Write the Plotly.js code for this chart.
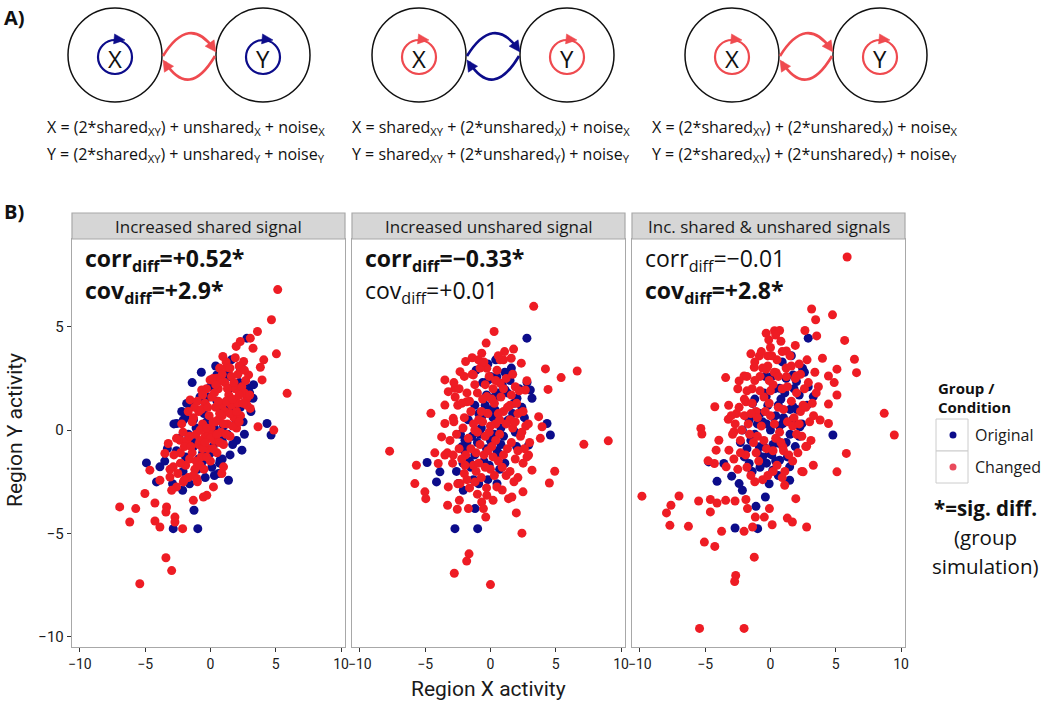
<!DOCTYPE html>
<html><head><meta charset="utf-8">
<script src="https://cdn.plot.ly/plotly-3.0.1.min.js"></script>
<style>html,body{margin:0;padding:0;background:#fff}#chart{width:1050px;height:703px}</style>
</head><body><div id="chart"></div>
<script>
// ---------------- DATA ----------------
const panelTitles = ["Increased shared signal", "Increased unshared signal", "Inc. shared & unshared signals"];
const corrDiff = ["+0.52*", "\u22120.33*", "\u22120.01"];
const covDiff = ["+2.9*", "+0.01", "+2.8*"];
const corrSig = [true, true, false];
const covSig = [true, false, true];
const xTicks = [-10, -5, 0, 5, 10];
const yTicks = [-10, -5, 0, 5];
const groupNames = ["Original", "Changed"];
const equationsX = [
  "X = (2*shared<sub>XY</sub>) + unshared<sub>X</sub> + noise<sub>X</sub>",
  "X = shared<sub>XY</sub> + (2*unshared<sub>X</sub>) + noise<sub>X</sub>",
  "X = (2*shared<sub>XY</sub>) + (2*unshared<sub>X</sub>) + noise<sub>X</sub>"
];
const equationsY = [
  "Y = (2*shared<sub>XY</sub>) + unshared<sub>Y</sub> + noise<sub>Y</sub>",
  "Y = shared<sub>XY</sub> + (2*unshared<sub>Y</sub>) + noise<sub>Y</sub>",
  "Y = (2*shared<sub>XY</sub>) + (2*unshared<sub>Y</sub>) + noise<sub>Y</sub>"
];

// Panel 1: increased shared signal
const sharedOriginal = [
  [2.79,4.45],[2.28,2.99],[1.51,2.59],[0.49,2.67],[2.92,2.02],[3.26,1.54],[4.33,0.32],[4.64,-0.24],
  [2.41,-0.97],[1.38,-2.43],[0.62,-2.1],[0.74,-1.46],[-4.9,-1.59],[-3.87,-1.78],[-4.13,-2.51],[-2.13,-2.91],
  [-1.26,-3.88],[-2.85,-4.77],[-0.97,-4.77],[-2.59,0.32],[-2.08,0.49],[-0.79,1.46],[-1.82,1.29],[-0.03,-1.13],
  [-0.54,-1.46],[-1.31,-0.81],
  [-2.8,0.3],[-2.4,-0.4],[-1.9,0.6],[-1.5,1.2],[-1.2,-0.6],[-0.8,1.6],[-0.6,-1.1],[-0.3,0.4],[0.0,2.1],[0.2,-0.8],
  [0.5,1.4],[0.7,-1.6],[1.0,0.2],[1.2,2.7],[1.5,-1.2],[1.8,1.0],[2.0,-0.5],[2.2,2.3],[2.5,0.4],[2.8,1.5],
  [-2.1,-2.0],[-1.6,-2.6],[-1.0,-1.9],[-0.4,-2.3],[0.3,-2.2],[0.9,-1.4],[-3.3,-0.9],[-3.5,-1.5],[-2.9,-2.6],[3.1,0.9],
  [-1.4,2.3],[-0.7,2.8],[0.4,3.1],[1.6,3.4],[2.4,3.0],[3.3,2.2],[-0.2,-0.2],[0.8,0.9],[-1.1,0.1],[1.3,-0.2],
  [-2.6,-1.0],[-2.2,0.9],[-1.7,-0.2],[-1.3,0.5],[-0.9,-1.4],[-0.5,0.8],[-0.1,1.6],[0.3,0.1],[0.6,2.4],[1.1,1.0],
  [1.4,2.0],[1.9,0.3],[2.3,1.1],[2.6,-0.2],[0.1,-1.8],[-0.7,-1.7],[1.7,-0.7],[-1.9,-1.3],[3.0,1.8],[0.9,-0.5]
];
const sharedChanged = [
  [5.15,6.8],[4.67,5.34],[3.6,4.77],[3.05,4.45],[2.28,4.29],[1.97,4.05],[3.26,3.96],[5.05,3.69],[0.95,3.56],
  [4.08,3.4],[2.54,3.32],[1.26,3.04],[3.82,3.04],[2.92,2.67],[3.95,2.43],[5.87,1.78],[-0.03,2.43],[0.49,2.51],
  [-0.67,1.94],[-1.56,1.46],[2.28,1.94],[2.79,1.54],[3.05,1.05],[3.64,0.16],[4.85,0.0],[-3.23,-0.65],[-3.49,-1.13],
  [-2.33,-0.49],[-2.85,-1.78],[-4.64,-1.94],[-3.1,-2.27],[-3.87,-2.43],[-5.02,-3.07],[-6.95,-3.72],[-5.72,-3.8],
  [-4.25,-3.53],[-3.36,-3.72],[-3.41,-3.97],[-6.18,-4.45],[-4.25,-4.4],[-3.87,-4.69],[-2.72,-4.21],[-2.72,-4.45],
  [-2.13,-4.77],[-3.41,-6.18],[-2.97,-6.8],[-5.41,-7.44],[-1.31,-3.4],[-0.54,-3.24],[-0.28,-3.16],[0.23,-2.75],
  [1.0,-1.78],[0.87,-2.1],[-2.59,-2.75],[-2.97,-2.91],[-2.08,-2.51],[-1.05,-2.34],
  [-2.6,-0.4],[-2.1,-0.1],[-1.4,0.4],[-0.9,0.9],[-0.4,1.3],[0.1,1.6],[0.6,2.0],[1.1,2.3],[1.6,2.6],[2.1,2.7],
  [-2.3,-1.1],[-1.8,-0.5],[-1.1,-0.2],[-0.6,0.3],[-0.1,0.7],[0.4,1.1],[0.9,1.2],[1.4,1.7],[1.9,2.0],[2.4,2.1],
  [-1.9,-1.7],[-1.4,-1.1],[-0.9,-0.7],[-0.4,-0.3],[0.05,0.1],[0.6,0.5],[1.1,0.9],[1.6,1.2],[2.1,1.3],[2.6,1.8],
  [-1.7,-2.3],[-1.2,-1.9],[-0.7,-1.3],[-0.2,-0.9],[0.3,-0.5],[0.8,-0.1],[1.3,0.3],[1.8,0.6],[2.3,0.7],[2.8,1.2],
  [-1.0,-2.5],[-0.5,-1.9],[0.0,-1.5],[0.5,-1.1],[1.0,-0.7],[1.5,-0.3],[2.0,0.1],[-2.8,-1.2],[-3.1,-1.9],[-2.5,-2.1],
  [0.2,2.5],[0.7,3.0],[-0.3,2.0],[1.2,3.3],[-1.2,1.1],[-0.8,0.0],[0.9,0.7],[1.7,2.1],[-0.1,-0.2],[0.4,0.4],
  [-2.2,0.3],[-1.6,-0.3],[-1.3,0.6],[-0.7,1.0],[-0.2,1.1],[0.3,1.8],[0.8,2.4],[1.3,2.0],[1.8,2.3],[2.2,3.1],
  [-2.0,-0.8],[-1.5,-0.8],[-0.8,-0.5],[-0.3,0.1],[0.2,0.4],[0.7,0.8],[1.2,1.4],[1.7,1.5],[2.2,1.7],[2.7,2.4],
  [-1.6,-1.4],[-1.1,-1.5],[-0.6,-0.9],[0.0,-0.4],[0.5,-0.2],[1.0,0.3],[1.5,0.8],[2.0,0.9],[2.5,1.3],[3.0,1.7],
  [-1.3,-2.2],[-0.8,-1.7],[-0.3,-1.3],[0.2,-0.9],[0.7,-0.6],[1.2,-0.2],[1.7,0.2],[2.2,0.4],[-2.3,-1.6],[-2.0,-2.4],
  [0.4,2.2],[-0.6,1.7],[0.9,2.7],[1.5,3.0],[-1.0,1.4],[-1.7,0.9],[2.6,2.9],[1.9,3.5],[-0.4,-0.6],[0.6,1.4]
];

// Panel 2: increased unshared signal
const unsharedOriginal = [
  [2.79,4.45],[1.64,2.75],[0.49,2.59],[3.05,1.94],[3.18,1.54],[2.03,1.54],[4.33,0.32],[4.59,-0.24],[2.92,-0.73],
  [-1.95,-0.49],[-2.2,-0.81],[-1.69,-1.62],[-4.85,-1.57],[-3.87,-2.02],[-4.13,-2.51],[-2.46,-2.59],[-2.08,-2.91],
  [-1.18,-3.8],[-2.72,-4.77],[-0.98,-4.77],[0.62,-1.13],[0.1,-0.65],[-0.67,0.65],[0.36,0.97],[1.13,1.94],[-0.15,2.43],
  [-1.5,-1.8],[-2.0,-1.0],[-1.0,-0.6],[-0.5,-1.5],[0.0,-0.5],[0.5,-1.0],[1.0,-0.3],[1.4,0.5],[1.8,1.3],[2.2,2.0],
  [-2.3,-0.2],[-1.7,0.5],[-1.2,1.2],[-0.6,2.3],[0.1,1.0],[0.6,1.8],[1.1,2.8],[1.6,3.0],[-0.2,3.2],[0.4,3.4],
  [-0.9,-2.6],[-0.2,-2.4],[0.5,-2.6],[-1.3,-2.4],[1.1,-1.6],[2.0,-0.8],[2.6,0.6],[-0.7,0.1],[0.2,0.6],[-1.6,-1.5],
  [0.8,0.1],[-0.3,1.7],[1.3,1.8],[-2.6,-2.0],[2.8,2.3],[-1.1,2.9],
  [-1.8,-0.6],[-1.2,-1.2],[-0.8,-0.2],[-0.3,-0.9],[0.3,-0.2],[0.8,-0.7],[1.2,0.4],[1.7,0.8],[-0.9,0.8],[-0.4,1.2],
  [0.3,1.6],[0.9,2.2],[1.5,2.4],[-1.4,-0.3],[-0.1,-1.7],[0.7,-1.9],[1.9,-0.1],[2.4,1.1],[-2.1,-1.6],[0.0,2.6]
];
const unsharedChanged = [
  [3.31,5.99],[0.28,4.77],[-0.33,4.21],[1.08,3.8],[1.77,3.92],[-0.67,3.72],[-1.9,3.32],[-0.92,3.4],[0.74,3.4],
  [1.59,3.48],[2.36,3.24],[-0.28,2.99],[4.21,2.96],[6.64,2.86],[5.41,2.54],[4.41,1.97],[-2.33,2.83],[-1.31,2.67],
  [-3.49,2.43],[-2.72,2.02],[-3.23,1.86],[2.79,2.39],[1.9,2.1],[2.67,1.94],[-1.82,1.37],[-3.49,1.21],[-4.56,0.81],
  [-2.85,0.57],[-3.49,0.32],[-3.74,-0.33],[3.69,0.65],[3.95,0.16],[3.82,-0.4],[7.15,-0.69],[9.02,-0.52],[-7.72,-1.02],
  [-4.26,-1.1],[-5.67,-1.7],[-4.0,-1.62],[-3.49,-1.21],[-2.85,-1.21],[-1.95,-1.7],[2.92,-1.21],[3.18,-1.94],[4.92,-1.99],
  [4.51,-2.56],[-5.79,-2.59],[-5.02,-2.99],[-4.95,-3.32],[-3.23,-2.75],[-2.33,-2.59],[-1.18,-2.51],[0.49,-2.75],
  [1.38,-3.32],[1.64,-3.24],[2.49,-2.99],[-0.28,-3.16],[-0.67,-3.48],[-2.38,-3.4],[-3.28,-3.64],[-2.54,-3.83],
  [-1.69,-3.8],[-0.54,-3.8],[-0.36,-4.21],[1.98,-4.01],[2.41,-4.99],[-1.64,-5.99],[-1.82,-6.34],[-2.77,-6.93],
  [0.0,-7.48],[0.74,2.27],[-0.28,1.62],
  [-2.5,1.2],[-1.8,1.8],[-1.2,2.2],[-0.6,1.5],[0.2,2.0],[0.8,1.6],[1.5,1.2],[2.1,0.8],[2.7,0.2],[3.0,-0.6],
  [-2.8,0.4],[-2.1,0.1],[-1.5,0.9],[-0.9,0.5],[-0.2,0.8],[0.4,0.3],[1.0,0.9],[1.7,0.1],[2.3,-0.3],[-3.1,-0.5],
  [-2.4,-0.9],[-1.7,-0.4],[-1.1,-1.1],[-0.4,-0.3],[0.1,-0.8],[0.7,-0.2],[1.3,-0.9],[1.9,-1.4],[2.5,-1.6],[-2.9,-1.6],
  [-2.0,-2.1],[-1.3,-1.7],[-0.7,-2.3],[0.0,-1.9],[0.6,-1.5],[1.2,-2.2],[1.8,-2.5],[-0.3,-2.8],[0.9,-2.9],[-1.6,-2.8],
  [-0.1,2.6],[0.5,2.9],[-0.8,3.0],[1.2,2.5],[-2.0,2.6],[2.2,1.9],[-1.0,-0.1],[0.3,1.3],[-0.5,-1.2],[1.5,0.5],
  [0.0,0.2],[-1.9,-1.2],[2.6,-0.9],[-2.4,2.0],[1.0,3.4],[-1.4,3.5],[0.2,-3.4],[-1.0,-3.1],
  [-2.7,1.6],[-2.2,1.3],[-1.6,1.4],[-1.0,1.8],[-0.4,2.2],[0.4,2.4],[1.0,2.0],[1.6,1.7],[2.0,1.3],[2.5,0.9],
  [-2.6,-0.2],[-2.0,0.6],[-1.3,0.3],[-0.7,0.9],[0.1,1.5],[0.6,0.8],[1.2,0.3],[1.9,0.4],[2.4,-0.1],[2.9,0.3],
  [-2.2,-1.4],[-1.5,-0.9],[-0.8,-0.7],[-0.2,-1.0],[0.4,-0.5],[1.0,-1.2],[1.6,-0.6],[2.1,-1.0],[2.8,-1.3],[-3.3,-1.1],
  [-1.8,-2.4],[-1.1,-2.0],[-0.4,-1.8],[0.3,-2.2],[0.9,-1.8],[1.5,-2.0],[2.1,-2.3],[-2.5,-2.6],[-0.1,-0.1],[0.7,0.5],
  [-1.4,2.7],[-0.5,3.3],[0.6,3.6],[1.7,2.7],[-2.8,2.3],[-0.9,-1.6],[1.3,1.1],[-1.2,0.0],[0.2,-1.3],[-0.6,0.4]
];

// Panel 3: increased shared & unshared signals
const bothOriginal = [
  [2.89,4.45],[2.46,2.99],[2.89,2.1],[3.28,1.62],[4.78,-0.24],[-4.73,-1.54],[-3.57,-1.62],[-4.09,-2.48],[-2.97,-2.23],
  [-2.4,-2.59],[-2.15,-2.91],[-0.39,-3.24],[-1.11,-3.69],[-2.71,-4.74],[-0.98,-4.77],[-0.33,1.62],[-1.37,1.29],
  [-1.63,0.49],[-2.15,0.0],[0.18,0.65],[0.95,0.32],[1.73,1.13],[2.25,0.16],[-0.85,-0.81],[-0.08,-1.13],[0.7,-1.46],
  [1.47,-1.78],[-1.63,-1.62],[0.18,-1.94],[1.47,-2.43],[0.7,-0.65],[-0.6,-1.3],[0.7,2.02],[1.99,2.35],[1.73,2.67],
  [-1.5,-0.5],[-1.0,0.3],[-0.5,-0.8],[0.0,0.0],[0.5,-0.5],[1.0,0.6],[1.5,-0.2],[2.0,1.0],[-0.2,1.2],[0.3,2.0],
  [0.8,1.5],[1.2,2.5],[1.8,2.0],[-0.8,-1.8],[0.1,-1.2],[0.6,-2.2],[-1.4,-2.0],[-2.0,-1.3],[2.4,0.3],[2.6,2.8],
  [-0.4,2.6],[0.9,3.3],[1.6,3.6],[-1.2,1.5],[-0.1,-2.6],[1.3,-1.3],[0.4,0.7],[-0.6,0.4],[1.9,-0.8],[2.2,1.7],
  [-1.8,-0.9],[-1.2,-0.2],[-0.8,0.8],[-0.3,0.3],[0.2,-0.7],[0.7,0.2],[1.2,-0.6],[1.7,0.5],[2.2,-0.3],[-0.5,1.8],
  [0.1,2.6],[0.6,1.2],[1.1,1.8],[1.5,1.0],[-1.0,-1.1],[-0.3,-1.6],[0.4,-1.5],[-2.3,-0.6],[2.8,1.2],[-1.6,0.6]
];
const bothChanged = [
  [5.87,8.38],[3.15,5.86],[4.75,5.58],[3.46,5.34],[-0.33,4.69],[0.31,4.81],[0.7,4.82],[-0.13,4.37],[2.64,4.82],
  [3.54,4.56],[5.68,4.34],[1.22,3.83],[-1.5,3.69],[-0.85,3.59],[-0.21,3.59],[3.98,3.48],[6.43,3.43],[6.59,2.78],
  [-1.24,3.04],[-0.33,2.95],[0.44,2.78],[5.09,2.95],[4.44,2.62],[4.88,2.3],[5.09,1.7],[-3.43,2.54],[-2.4,2.38],
  [-2.02,2.62],[1.22,2.59],[1.99,2.62],[3.67,2.1],[-4.26,1.13],[-1.88,1.37],[4.44,1.26],[3.8,0.49],[4.44,0.32],
  [8.71,0.81],[9.48,-0.24],[-5.33,0.08],[-5.25,-0.19],[-3.23,0.52],[-2.79,-0.08],[-3.95,-0.49],[-3.18,-0.97],
  [-4.16,-0.97],[-4.29,-1.62],[-3.39,-1.78],[-4.78,-1.49],[5.81,-1.13],[5.09,-2.02],[3.28,-1.7],[2.5,-2.02],
  [1.09,-2.67],[-9.84,-3.2],[-7.0,-3.19],[-7.62,-3.64],[-7.96,-4.01],[-7.7,-4.61],[-6.28,-4.66],[-5.5,-3.43],
  [-4.6,-3.36],[-4.09,-3.53],[-4.6,-3.96],[-3.43,-3.4],[-2.71,-3.43],[-1.88,-3.36],[-1.76,-3.8],[-1.16,-4.21],
  [-0.08,-3.8],[-0.47,-4.21],[0.13,-4.58],[-1.37,-4.69],[-2.02,-4.9],[-3.74,-4.9],[-5.06,-5.42],[-4.26,-5.63],
  [-1.24,-6.15],[-2.66,-7.04],[-2.74,-7.33],[-5.43,-9.6],[-2.02,-9.6],[1.94,-3.32],[1.29,-4.26],[1.68,-4.45],
  [2.77,-4.69],[0.95,-0.81],[2.77,-0.78],
  [-2.6,0.8],[-2.0,1.5],[-1.4,2.0],[-0.8,2.6],[-0.2,3.1],[0.5,3.4],[1.2,3.0],[1.9,2.5],[2.6,2.0],[3.2,1.3],
  [-2.3,-0.5],[-1.7,0.3],[-1.1,0.9],[-0.5,1.6],[0.2,2.2],[0.9,2.0],[1.6,1.4],[2.3,0.9],[3.0,0.4],[-2.9,-0.2],
  [-1.9,-1.2],[-1.3,-0.6],[-0.7,0.2],[0.0,0.7],[0.6,1.1],[1.3,0.4],[2.0,-0.2],[2.7,-0.8],[-2.5,-1.9],[-1.5,-2.2],
  [-0.9,-1.5],[-0.3,-0.9],[0.4,-0.4],[1.0,-1.0],[1.7,-1.5],[2.4,-2.0],[-0.6,-2.4],[0.2,-2.0],[0.9,-2.3],[-1.2,3.3],
  [0.0,4.0],[0.8,4.3],[-1.8,2.6],[1.5,3.6],[2.2,3.2],[3.4,2.8],[-3.2,1.2],[-0.1,1.3],[0.7,-0.1],[-1.0,-0.3],
  [1.8,0.6],[-2.2,0.0],[0.3,2.8],[2.5,1.2],
  [-2.4,1.1],[-1.8,1.9],[-1.2,2.4],[-0.6,3.0],[0.1,3.6],[0.9,3.8],[1.6,3.1],[2.3,2.7],[2.9,2.3],[3.5,1.8],
  [-2.7,0.3],[-2.0,0.7],[-1.4,1.3],[-0.8,1.9],[-0.1,2.4],[0.6,2.6],[1.3,2.1],[2.0,1.8],[2.7,1.1],[3.3,0.7],
  [-2.3,-1.1],[-1.6,-0.2],[-1.0,0.6],[-0.4,0.9],[0.3,0.3],[1.0,1.0],[1.7,0.2],[2.4,-0.3],[3.1,-0.5],[-2.8,-1.4],
  [-1.8,-1.8],[-1.1,-1.1],[-0.5,-0.5],[0.2,-1.0],[0.8,-0.6],[1.4,-1.2],[2.1,-1.1],[-1.2,-2.5],[-0.2,-2.2],[0.5,-1.7],
  [-0.7,3.8],[0.4,4.6],[1.9,4.1],[-2.5,2.0],[2.8,3.4],[-3.0,0.7],[1.1,-2.0],[0.0,1.9],[-1.5,0.8],[2.2,0.3]
];

const panelOriginal = [sharedOriginal, unsharedOriginal, bothOriginal];
const panelChanged = [sharedChanged, unsharedChanged, bothChanged];

// ---------------- STYLE / LAYOUT ----------------
const W = 1050, H = 703;
const fx = x => x / W;
const fy = y => 1 - y / H;
const NAVY = "#0c0c8a", RED = "#ee1c24", ARROW_RED = "#ef4a4f";
const LEGEND_RED = "#e94a5c";
const TXT = "Open Sans, Noto Sans, sans-serif";
const AXF = "Roboto, Liberation Sans, Arial, sans-serif";
const panelPx = [[72, 345], [352, 625], [632, 905]];
const plotTop = 239, plotBottom = 647, stripTop = 213;

const traces = [];
const layout = {
  width: W, height: H,
  margin: {l: 0, r: 0, t: 0, b: 0},
  paper_bgcolor: "#ffffff", plot_bgcolor: "#ffffff",
  showlegend: false,
  hovermode: false,
  shapes: [], annotations: []
};

for (let p = 0; p < 3; p++) {
  const sx = p === 0 ? "" : String(p + 1);
  const xa = "x" + sx, ya = "y" + sx;
  [[panelOriginal[p], NAVY, groupNames[0]], [panelChanged[p], RED, groupNames[1]]].forEach(([pts, col, nm]) => {
    traces.push({
      type: "scatter", mode: "markers", name: nm,
      x: pts.map(d => d[0]), y: pts.map(d => d[1]),
      xaxis: xa, yaxis: ya,
      marker: {color: col, size: 9, line: {width: 0}},
      hoverinfo: "skip"
    });
  });
  layout["xaxis" + sx] = {
    domain: [fx(panelPx[p][0]), fx(panelPx[p][1])],
    anchor: ya, range: [-10.6, 10.3],
    tickvals: xTicks, ticks: "outside", ticklen: 4, tickwidth: 1, tickcolor: "#333",
    tickfont: {family: AXF, size: 14, color: "#1a1a1a"},
    showline: true, mirror: true, linecolor: "#a8a8a8", linewidth: 1.2,
    showgrid: false, zeroline: false, fixedrange: true
  };
  layout["yaxis" + sx] = {
    domain: [fy(plotBottom), fy(plotTop)],
    anchor: xa, range: [-10.5, 9.25],
    tickvals: yTicks, ticks: p === 0 ? "outside" : "", ticklen: 4, tickwidth: 1, tickcolor: "#333",
    showticklabels: p === 0,
    tickfont: {family: AXF, size: 15, color: "#1a1a1a"},
    showline: true, mirror: true, linecolor: "#a8a8a8", linewidth: 1.2,
    showgrid: false, zeroline: false, fixedrange: true
  };
  // strip header
  layout.shapes.push({type: "rect", xref: "paper", yref: "paper",
    x0: fx(panelPx[p][0]), x1: fx(panelPx[p][1]), y0: fy(plotTop), y1: fy(stripTop),
    fillcolor: "#d6d6d6", line: {color: "#a8a8a8", width: 1.2}, layer: "above"});
  layout.annotations.push({xref: "paper", yref: "paper", x: fx((panelPx[p][0] + panelPx[p][1]) / 2), y: fy(226.5),
    text: panelTitles[p], showarrow: false, xanchor: "center", yanchor: "middle",
    font: {family: TXT, size: 17, color: "#1a1a1a"}});
  // stats text
  const c = "corr<sub>diff</sub>=" + corrDiff[p];
  const v = "cov<sub>diff</sub>=" + covDiff[p];
  layout.annotations.push({xref: "paper", yref: "paper", x: fx(panelPx[p][0] + 11), y: fy(259),
    text: corrSig[p] ? "<b>" + c + "</b>" : c, showarrow: false, xanchor: "left", yanchor: "middle",
    font: {family: TXT, size: 23, color: "#111"}});
  layout.annotations.push({xref: "paper", yref: "paper", x: fx(panelPx[p][0] + 11), y: fy(291),
    text: covSig[p] ? "<b>" + v + "</b>" : v, showarrow: false, xanchor: "left", yanchor: "middle",
    font: {family: TXT, size: 23, color: "#111"}});
}

// axis titles
layout.annotations.push({xref: "paper", yref: "paper", x: fx(488), y: fy(689), text: "Region X activity",
  showarrow: false, xanchor: "center", yanchor: "middle", font: {family: AXF, size: 21, color: "#1a1a1a"}});
layout.annotations.push({xref: "paper", yref: "paper", x: fx(15), y: fy(430), text: "Region Y activity",
  showarrow: false, textangle: -90, xanchor: "center", yanchor: "middle", font: {family: AXF, size: 21, color: "#1a1a1a"}});

// panel letters
layout.annotations.push({xref: "paper", yref: "paper", x: fx(2), y: fy(18), text: "<b>A)</b>",
  showarrow: false, xanchor: "left", yanchor: "middle", font: {family: TXT, size: 20, color: "#111"}});
layout.annotations.push({xref: "paper", yref: "paper", x: fx(2), y: fy(212), text: "<b>B)</b>",
  showarrow: false, xanchor: "left", yanchor: "middle", font: {family: TXT, size: 20, color: "#111"}});

// legend (drawn)
layout.annotations.push({xref: "paper", yref: "paper", x: fx(936), y: fy(388), text: "<b>Group /</b>",
  showarrow: false, xanchor: "left", yanchor: "middle", font: {family: TXT, size: 15, color: "#111"}});
layout.annotations.push({xref: "paper", yref: "paper", x: fx(936), y: fy(407), text: "<b>Condition</b>",
  showarrow: false, xanchor: "left", yanchor: "middle", font: {family: TXT, size: 15, color: "#111"}});
[[groupNames[0], NAVY, 435], [groupNames[1], LEGEND_RED, 467]].forEach(([nm, col, yc]) => {
  layout.shapes.push({type: "rect", xref: "paper", yref: "paper", x0: fx(936), x1: fx(968), y0: fy(yc + 16), y1: fy(yc - 16),
    fillcolor: "#ffffff", line: {color: "#cccccc", width: 1}});
  layout.shapes.push({type: "circle", xref: "paper", yref: "paper", x0: fx(949.5), x1: fx(956.5), y0: fy(yc + 3.5), y1: fy(yc - 3.5),
    fillcolor: col, line: {width: 0}});
  layout.annotations.push({xref: "paper", yref: "paper", x: fx(973), y: fy(yc), text: nm,
    showarrow: false, xanchor: "left", yanchor: "middle", font: {family: TXT, size: 16, color: "#1a1a1a"}});
});
layout.annotations.push({xref: "paper", yref: "paper", x: fx(985), y: fy(508), text: "<b>*=sig. diff.</b>",
  showarrow: false, xanchor: "center", yanchor: "middle", font: {family: TXT, size: 20.5, color: "#111"}});
layout.annotations.push({xref: "paper", yref: "paper", x: fx(985), y: fy(537), text: "(group",
  showarrow: false, xanchor: "center", yanchor: "middle", font: {family: TXT, size: 20.5, color: "#111"}});
layout.annotations.push({xref: "paper", yref: "paper", x: fx(985), y: fy(566), text: "simulation)",
  showarrow: false, xanchor: "center", yanchor: "middle", font: {family: TXT, size: 20.5, color: "#111"}});

// ---------------- panel A diagrams ----------------
function P(x, y) { return fx(x).toFixed(5) + "," + fy(y).toFixed(5); }
function head(tx, ty, cx, cy, len, hw, col) {
  const dx = tx - cx, dy = ty - cy, L = Math.hypot(dx, dy);
  const ux = dx / L, uy = dy / L, px = -uy, py = ux;
  const bx = tx - len * ux, by = ty - len * uy;
  return {type: "path", xref: "paper", yref: "paper",
    path: "M " + P(tx, ty) + " L " + P(bx + hw * px, by + hw * py) + " L " + P(bx - hw * px, by - hw * py) + " Z",
    fillcolor: col, line: {color: col, width: 0.5}};
}
const diagX = [115, 419, 732];
const innerCol = [NAVY, ARROW_RED, ARROW_RED];
const linkCol = [ARROW_RED, NAVY, ARROW_RED];
for (let d = 0; d < 3; d++) {
  const xc = diagX[d], yc2 = xc + 148, cy = 55;
  [xc, yc2].forEach((cx, k) => {
    layout.shapes.push({type: "circle", xref: "paper", yref: "paper", x0: fx(cx - 47), x1: fx(cx + 47),
      y0: fy(cy + 47), y1: fy(cy - 47), line: {color: "#111", width: 1.5}});
    layout.shapes.push({type: "circle", xref: "paper", yref: "paper", x0: fx(cx - 17), x1: fx(cx + 17),
      y0: fy(cy + 19), y1: fy(cy - 15), line: {color: innerCol[d], width: 2.2}});
    layout.shapes.push(head(cx + 10, cy - 15, cx, cy - 16, 11, 5, innerCol[d]));
    layout.annotations.push({xref: "paper", yref: "paper", x: fx(cx), y: fy(cy + 3), text: k === 0 ? "X" : "Y",
      showarrow: false, xanchor: "center", yanchor: "middle", font: {family: TXT, size: 24, color: "#111"}});
  });
  const a = xc + 47, b = yc2 - 47, m = (a + b) / 2;
  layout.shapes.push({type: "path", xref: "paper", yref: "paper",
    path: "M " + P(a + 1, 56) + " Q " + P(m, 14) + " " + P(b - 2, 49), line: {color: linkCol[d], width: 2.6}});
  layout.shapes.push(head(b, 52, m, 14, 11, 5.5, linkCol[d]));
  layout.shapes.push({type: "path", xref: "paper", yref: "paper",
    path: "M " + P(b - 1, 56) + " Q " + P(m, 100) + " " + P(a + 3, 62), line: {color: linkCol[d], width: 2.6}});
  layout.shapes.push(head(a + 1, 60, m, 100, 11, 5.5, linkCol[d]));
  const ex = [45, 350, 650][d];
  layout.annotations.push({xref: "paper", yref: "paper", x: fx(ex), y: fy(128), text: equationsX[d],
    showarrow: false, xanchor: "left", yanchor: "middle", font: {family: TXT, size: 16, color: "#111"}});
  layout.annotations.push({xref: "paper", yref: "paper", x: fx(ex), y: fy(155), text: equationsY[d],
    showarrow: false, xanchor: "left", yanchor: "middle", font: {family: TXT, size: 16, color: "#111"}});
}

Plotly.newPlot("chart", traces, layout, {displayModeBar: false, staticPlot: true});
</script>
</body></html>
